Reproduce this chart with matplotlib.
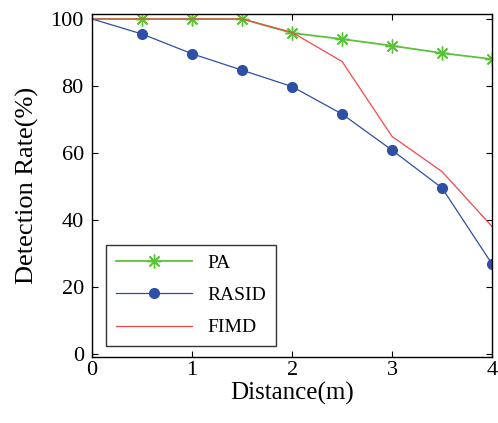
import matplotlib
matplotlib.use("Agg")
import matplotlib.pyplot as plt

# distances (m)
dist = [0, 0.5, 1, 1.5, 2, 2.5, 3, 3.5, 4]

# detection rates (%)
pa_rate = [100, 100, 100, 100, 95.8, 94.0, 92.0, 89.8, 88.0]
rasid_rate = [100, 95.5, 89.6, 84.7, 79.8, 71.6, 60.8, 49.5, 26.8]
fimd_rate = [100, 100, 100, 100, 96.0, 87.3, 64.9, 54.4, 38.0]

plt.rcParams["font.family"] = ["Liberation Serif", "DejaVu Serif"]

MY_DPI = 100
fig = plt.figure(figsize=(498 / MY_DPI, 423 / MY_DPI), dpi=MY_DPI)
ax = fig.add_axes([0.185, 0.156, 0.803, 0.811])

# markers skip the first point at x=0
ax.plot(dist, pa_rate, color="#5cc23c", linewidth=1.3, marker=(8, 2, 0),
        markersize=10, markeredgewidth=1.0, markevery=range(1, len(dist)),
        label="PA")
ax.plot(dist, rasid_rate, color="#2d4fa6", linewidth=0.9, marker="o",
        markersize=7, markevery=range(1, len(dist)), label="RASID")
ax.plot(dist, fimd_rate, color="#f04848", linewidth=0.9, label="FIMD")

ax.set_xlim(0, 4)
ax.set_ylim(-1, 101.5)
ax.set_xticks([0, 1, 2, 3, 4])
ax.set_yticks([0, 20, 40, 60, 80, 100])
ax.tick_params(direction="in", length=4, top=True, right=True,
               labelsize=16, pad=3)
ax.tick_params(axis="y", pad=6)
for s in ax.spines.values():
    s.set_linewidth(1.0)

ax.set_xlabel("Distance(m)", fontsize=18, labelpad=1)
ax.set_ylabel("Detection Rate(%)", fontsize=19, labelpad=8)

leg = ax.legend(loc="lower left", bbox_to_anchor=(0.035, 0.032),
                borderaxespad=0, fontsize=14,
                frameon=True, fancybox=False, edgecolor="black",
                handlelength=3.9, borderpad=0.5, labelspacing=0.75)
leg.get_frame().set_linewidth(1.0)

fig.savefig("out.png", dpi=MY_DPI)
